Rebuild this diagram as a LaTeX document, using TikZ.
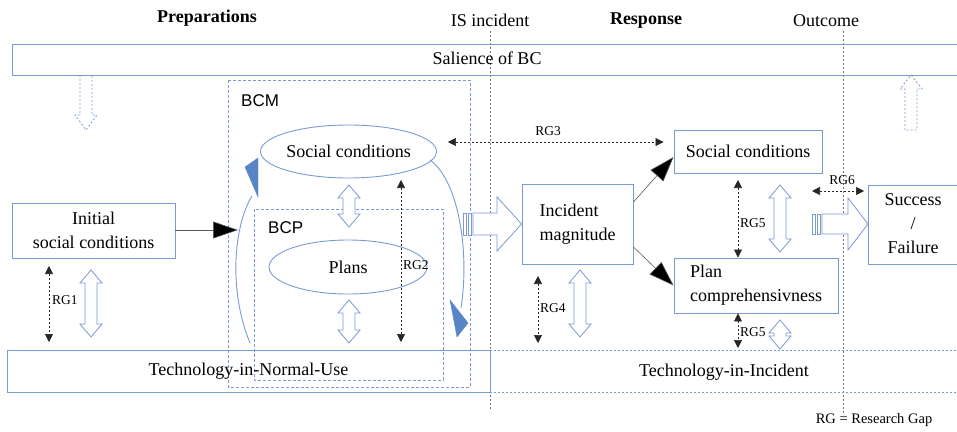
\documentclass[tikz,border=0pt]{standalone}
\usepackage{fontspec}
\setmainfont{Liberation Serif}
\newfontfamily\bcsans{Liberation Sans}
\usetikzlibrary{shapes.geometric,arrows.meta}
\definecolor{bcblue}{RGB}{122,154,212}
\definecolor{arcblue}{RGB}{88,133,200}
\newcommand{\mainsize}{\fontsize{18}{24}\selectfont}
\newcommand{\gapsize}{\fontsize{13.5}{16}\selectfont}
% hollow two-headed arrow: x, top y, bottom y
\newcommand{\hollowvert}[3]{%
  \draw[hollow] (#1,#2) -- ({#1+11},{#2+13}) -- ({#1+6},{#2+13}) -- ({#1+6},{#3-13})
    -- ({#1+11},{#3-13}) -- (#1,#3) -- ({#1-11},{#3-13}) -- ({#1-6},{#3-13})
    -- ({#1-6},{#2+13}) -- ({#1-11},{#2+13}) -- cycle;}
\tikzset{
  stdbox/.style={draw=bcblue, line width=0.9pt, fill=white, rectangle, inner sep=3pt, font=\mainsize},
  stdell/.style={draw=bcblue, line width=0.9pt, ellipse, inner sep=0pt, font=\mainsize},
  grpbox/.style={draw=bcblue, line width=0.8pt, dash pattern=on 3pt off 2pt},
  grplabel/.style={font=\bcsans\fontsize{17}{20}\selectfont, anchor=west, inner sep=0pt},
  gaparrow/.style={black!85, line width=0.7pt, dash pattern=on 2pt off 2pt,
    {Triangle[length=8pt,width=8pt]}-{Triangle[length=8pt,width=8pt]}},
  gaplabel/.style={font=\gapsize, inner sep=0pt},
  flow/.style={draw=black!65, line width=0.6pt, -{Triangle[length=25pt,width=17pt,fill=black]}},
  hollow/.style={draw=bcblue, line width=0.8pt, fill=white},
  hollowdash/.style={draw=bcblue, line width=0.8pt, dash pattern=on 2pt off 2pt},
  phase/.style={font=\mainsize, inner sep=0pt},
  eventline/.style={draw=black!55, line width=0.8pt, dash pattern=on 2pt off 2pt},
  arcline/.style={draw=bcblue, line width=0.9pt},
  archead/.style={fill=arcblue, draw=arcblue, line width=0.4pt}
}
\begin{document}
\begin{tikzpicture}[x=1pt,y=-1pt]
\useasboundingbox (0,0) rectangle (957,431);
\node[phase, font=\mainsize\bfseries] (prep) at (207,18) {Preparations};
\node[phase] (isinc) at (490,20) {IS incident};
\node[phase, font=\mainsize\bfseries] (resp) at (646,21) {Response};
\node[phase] (outc) at (826,21) {Outcome};
\draw[eventline] (490,31) -- (490,410);
\draw[eventline] (843,31) -- (843,415);
\node[phase] (salience) at (487,58) {Salience of BC};
\draw[draw=bcblue, line width=0.9pt] (958,44) -| (12,75) -- (958,75);
\draw[hollowdash] (80,75) -- (80,115) -- (75,115) -- (86,130) -- (97,115) -- (92,115) -- (92,75);
\draw[hollowdash] (905,130) -- (905,89) -- (900,89) -- (911,75) -- (922,89) -- (917,89) -- (917,130) -- cycle;
\draw[grpbox] (228,80) rectangle (470,387);
\node[grplabel] (bcm) at (241,101) {BCM};
\draw[grpbox] (254,209) rectangle (443,380);
\node[grplabel] (bcp) at (268,228) {BCP};
\node[stdell, minimum width=158pt, minimum height=53pt] (socl) at (348.5,151.5) {Social conditions};
\node[stdell, minimum width=158pt, minimum height=54pt] (plans) at (348,267) {Plans};
\node[stdbox, minimum width=163pt, minimum height=55pt, align=center] (init) at (93.5,230.5) {Initial\\social conditions};
\node[draw=bcblue, line width=0.9pt, rectangle, font=\mainsize, minimum width=483pt, minimum height=42pt] (tnu) at (248.5,371) {Technology-in-Normal-Use};
\draw[draw=bcblue, line width=0.8pt, dash pattern=on 2pt off 2pt] (490,350) -- (957,350) (490,392) -- (957,392);
\node[phase] (tii) at (724,372) {Technology-in-Incident};
\node[stdbox, minimum width=111pt, minimum height=80pt, align=left] (magn) at (577.5,224) {Incident\\magnitude};
\node[stdbox, minimum width=148pt, minimum height=43pt] (socr) at (748,151.5) {Social conditions};
\node[stdbox, minimum width=164pt, minimum height=55pt, align=left] (plan) at (756,285.5) {Plan\\comprehensivness};
\node[phase, align=center] (succ) at (913,224) {Success\\/\\Failure};
\draw[draw=bcblue, line width=0.9pt] (958,185) -| (868,264) -- (958,264);
\coordinate (bcmin) at (238,230);
\draw[flow] (init.east |- bcmin) -- (bcmin);
\draw[flow] ([yshift=22pt]magn.east) -- ([yshift=-5.5pt]socr.west);
\draw[flow] ([yshift=-23pt]magn.east) -- (plan.west);
\draw[arcline] (250,343) .. controls (228,290) and (234,225) .. (252,196);
\draw[archead] (258,158) -- (245,167) -- (258,197) -- cycle;
\draw[arcline] (430,160) .. controls (458,180) and (470,250) .. (461,308);
\draw[archead] (450,300) -- (468,323) -- (457,337) -- cycle;
\draw[hollow] (463,213) rectangle (466,235) (468,213) rectangle (471,235);
\draw[hollow] (473,213) -- (497,213) -- (497,197) -- (magn.west) -- (497,251) -- (497,235) -- (473,235) -- cycle;
\draw[hollow] (812,214) rectangle (815,234) (817,214) rectangle (820,234);
\draw[hollow] (822,214) -- (848,214) -- (848,198) -- (868,224) -- (848,250) -- (848,234) -- (822,234) -- cycle;
\hollowvert{349}{185}{227}
\hollowvert{349}{300}{343}
\hollowvert{91}{270}{337}
\hollowvert{580}{270}{337}
\hollowvert{780}{185}{252}
\hollowvert{780}{320}{349}
\draw[gaparrow] (49,266) -- (49,342);
\node[gaplabel, anchor=west] (rg1) at (52,300) {RG1};
\draw[gaparrow] (401,180) -- (401,342);
\node[gaplabel, anchor=west] (rg2) at (403,265) {RG2};
\draw[gaparrow] ([xshift=11pt]socl.east |- 0,142) -- ([xshift=-10pt]socr.west |- 0,142);
\node[gaplabel] (rg3) at (548,131) {RG3};
\draw[gaparrow] (538,276) -- (538,343);
\node[gaplabel, anchor=west] (rg4) at (540,308) {RG4};
\draw[gaparrow] (738,180) -- (plan.north -| 738,0);
\node[gaplabel, anchor=west] (rg5a) at (740,223) {RG5};
\draw[gaparrow] (plan.south -| 738,0) -- (738,348);
\node[gaplabel, anchor=west] (rg5b) at (740,332) {RG5};
\draw[gaparrow] (812,191) -- (864,191);
\node[gaplabel] (rg6) at (842,180) {RG6};
\node[font=\fontsize{14.5}{17}\selectfont, inner sep=0pt] (legend) at (874,420) {RG = Research Gap};
\end{tikzpicture}
\end{document}
